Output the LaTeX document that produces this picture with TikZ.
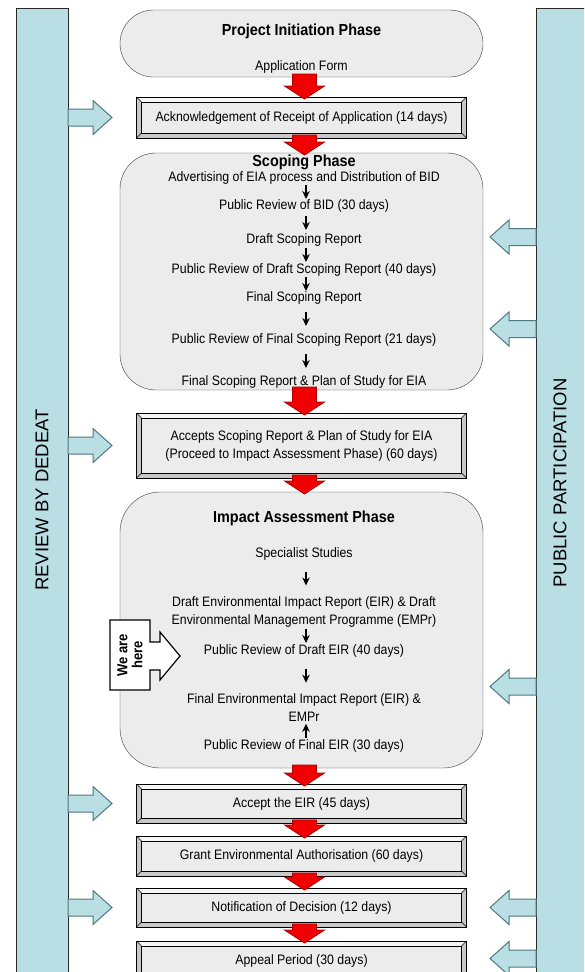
\documentclass[tikz,border=0pt]{standalone}
\usepackage{fontspec}
\setmainfont{Liberation Sans}[FakeStretch=0.9]
\newfontfamily\barfont{Liberation Sans}
\usetikzlibrary{arrows.meta,positioning,calc}

\definecolor{barblue}{RGB}{185,222,227}
\definecolor{barline}{RGB}{40,40,40}
\definecolor{sideline}{RGB}{80,120,128}
\definecolor{phasefill}{RGB}{236,236,236}
\definecolor{phaseline}{RGB}{60,60,60}
\definecolor{bevelfill}{RGB}{236,236,236}
\definecolor{bevelside}{RGB}{200,200,200}
\definecolor{beveltop}{RGB}{246,246,246}
\definecolor{redfill}{RGB}{240,0,0}
\definecolor{redline}{RGB}{170,0,0}

% bevelled frame round a box
\newcommand{\bevel}[1]{%
  \fill[bevelside, even odd rule] (#1.north west) rectangle (#1.south east)
    ([shift={(5pt,-5pt)}]#1.north west) rectangle ([shift={(-5pt,5pt)}]#1.south east);
  \fill[beveltop] (#1.north west) -- (#1.north east) -- ([shift={(-5pt,-5pt)}]#1.north east)
    -- ([shift={(5pt,-5pt)}]#1.north west) -- cycle;
  \draw ([shift={(5pt,-5pt)}]#1.north west) rectangle ([shift={(-5pt,5pt)}]#1.south east);
  \draw (#1.north west) rectangle (#1.south east);
  \draw (#1.north west) -- ++(5pt,-5pt) (#1.north east) -- ++(-5pt,-5pt)
    (#1.south west) -- ++(5pt,5pt) (#1.south east) -- ++(-5pt,5pt);}

% red block arrow from one box to the next
\newcommand{\redarrow}[2]{%
  \filldraw[fill=redfill, draw=redline, line width=0.8pt] let \p1=(#1.south), \p2=(#2.north) in
    (\x2-9pt,\y1+3pt) -- (\x2-9pt,\y2+11pt) -- (\x2-17pt,\y2+11pt) -- (\x2+3pt,\y2-2pt)
    -- (\x2+23pt,\y2+11pt) -- (\x2+15pt,\y2+11pt) -- (\x2+15pt,\y1+3pt) -- cycle;}

\begin{document}
\begin{tikzpicture}[x=1pt, y=-1pt, >={Stealth[length=8pt, width=7.5pt]}, font=\fontsize{13.7}{18}\selectfont,
  phase/.style={rectangle, draw=phaseline, fill=phasefill, minimum width=363pt, outer sep=0pt},
  bevelbox/.style={rectangle, draw, fill=bevelfill, minimum width=330pt, outer sep=0pt, align=center},
  entry/.style={inner sep=0pt, text height=9.8pt, text depth=3pt},
  twoline/.style={inner sep=0pt, align=center},
  phasetitle/.style={inner sep=0pt, text height=12pt, text depth=3.5pt, font=\fontsize{16}{18}\selectfont\bfseries},
  bar/.style={rectangle, draw=barline, fill=barblue, minimum width=52pt, minimum height=990pt, anchor=north west, outer sep=0pt},
  bartext/.style={rotate=90, font=\barfont\fontsize{18.5}{20}\selectfont},
  side/.style={draw=sideline, fill=barblue, line width=1pt},
  flowline/.style={->, line width=1.3pt}]

\useasboundingbox (0,0) rectangle (584,972);
\clip (0,0) rectangle (584,972);
\fill[white] (0,0) rectangle (584,972);

% side bars
\node[bar] (review) at (16,8) {};
\node[bar, minimum width=60pt] (public) at (536,8) {};
\node[bartext] (reviewlabel) at (42,500) {REVIEW BY DEDEAT};
\node[bartext] (publiclabel) at (560,483) {PUBLIC PARTICIPATION};

% main column
\node[phase, rounded corners=33.5pt, minimum height=67pt] (init) at (301.5,43.5) {};
\node[bevelbox, minimum height=41pt, below=20pt of init] (ack) {};
\node[phase, rounded corners=36pt, minimum height=237pt, below=15pt of ack] (scoping) {};
\node[bevelbox, minimum height=65pt, below=23pt of scoping] (accepts) {};
\node[phase, rounded corners=40pt, minimum height=276pt, below=14pt of accepts] (impact) {};
\node[bevelbox, minimum height=39pt, below=16pt of impact] (accepteir) {};
\node[bevelbox, minimum height=40pt, below=13pt of accepteir] (grant) {};
\node[bevelbox, minimum height=39pt, below=12pt of grant] (notif) {};
\node[bevelbox, minimum height=39pt, below=14pt of notif] (appeal) {};

\bevel{ack}
\bevel{accepts}
\bevel{accepteir}
\bevel{grant}
\bevel{notif}
\bevel{appeal}
\node[align=center] (acktext) at (ack) {Acknowledgement of Receipt of Application (14 days)};
\node[align=center] (acceptstext) at (accepts)
  {Accepts Scoping Report \& Plan of Study for EIA\\(Proceed to Impact Assessment Phase) (60 days)};
\node (accepteirtext) at (accepteir) {Accept the EIR (45 days)};
\node (granttext) at (grant) {Grant Environmental Authorisation (60 days)};
\node (notiftext) at (notif) {Notification of Decision (12 days)};
\node (appealtext) at (appeal) {Appeal Period (30 days)};

% project initiation
\node[phasetitle, yshift=-21pt] (inittitle) at (init.north) {Project Initiation Phase};
\node[entry, node distance=36pt, below of=inittitle] (appform) {Application Form};

% scoping
\node[phasetitle, xshift=2.5pt, yshift=-9pt] (sctitle) at (scoping.north) {Scoping Phase};
\node[entry, node distance=16pt, below of=sctitle] (adv) {Advertising of EIA process and Distribution of BID};
\node[entry, node distance=28pt, below of=adv] (prbid) {Public Review of BID (30 days)};
\node[entry, node distance=34pt, below of=prbid] (draft) {Draft Scoping Report};
\node[entry, node distance=30pt, below of=draft] (prdraft) {Public Review of Draft Scoping Report (40 days)};
\node[entry, node distance=28pt, below of=prdraft] (final) {Final Scoping Report};
\node[entry, node distance=42pt, below of=final] (prfinal) {Public Review of Final Scoping Report (21 days)};
\node[entry, node distance=42pt, below of=prfinal] (plan) {Final Scoping Report \& Plan of Study for EIA};

% impact assessment
\node[phasetitle, xshift=2.5pt, yshift=-26.5pt] (iatitle) at (impact.north) {Impact Assessment Phase};
\node[entry, node distance=36pt, below of=iatitle] (special) {Specialist Studies};
\node[twoline, node distance=57pt, below of=special] (drafteir)
  {Draft Environmental Impact Report (EIR) \& Draft\\Environmental Management Programme (EMPr)};
\node[entry, node distance=40pt, below of=drafteir] (prdeir) {Public Review of Draft EIR (40 days)};
\node[twoline, node distance=56pt, below of=prdeir] (finaleir)
  {Final Environmental Impact Report (EIR) \&\\EMPr};
\node[entry, node distance=39pt, below of=finaleir] (prfeir) {Public Review of Final EIR (30 days)};

\foreach \a/\b in {adv/prbid, prbid/draft, draft/prdraft, prdraft/final, final/prfinal, prfinal/plan,
                   special/drafteir, drafteir/prdeir, prdeir/finaleir}
  \draw[flowline] let \p1=($(\a.south)!.5!(\b.north)$) in (\x1+2pt,\y1+7pt) -- (\x1+2pt,\y1-7pt);
\draw[flowline, <-] let \p1=($(finaleir.south)!.5!(prfeir.north)$) in (\x1+2pt,\y1+7pt) -- (\x1+2pt,\y1-7pt);

% red arrows down the column
\foreach \a/\b in {init/ack, ack/scoping, scoping/accepts, accepts/impact,
                   impact/accepteir, accepteir/grant, grant/notif, notif/appeal}
  {\redarrow{\a}{\b}}

% review by the department
\foreach \b in {ack, accepts, accepteir, notif}
  \filldraw[side] (review.east |- \b) ++(0,-8.5) -- ++(25,0) -- ++(0,-8.5) -- ++(19,17)
    -- ++(-19,17) -- ++(0,-8.5) -- ++(-25,0) -- cycle;

% public participation
\foreach \n/\d in {draft/-3, prfinal/-11, finaleir/-21, notif/0, appeal/-2}
  \filldraw[side] ($(public.west |- \n)+(0,\d)$) ++(0,-8.5) -- ++(-27,0) -- ++(0,-8.5) -- ++(-19,17)
    -- ++(19,17) -- ++(0,-8.5) -- ++(27,0) -- cycle;

% we are here
\filldraw[fill=white, line width=1.2pt] (110,620) -- (150,620) -- (150,642) -- (160,642) -- (160,632)
  -- (180,656) -- (160,680) -- (160,670) -- (150,670) -- (150,690) -- (110,690) -- cycle;
\node[rotate=90, align=center, font=\fontsize{14.5}{15}\selectfont\bfseries] (here) at (130,655) {We are\\here};
\end{tikzpicture}
\end{document}
